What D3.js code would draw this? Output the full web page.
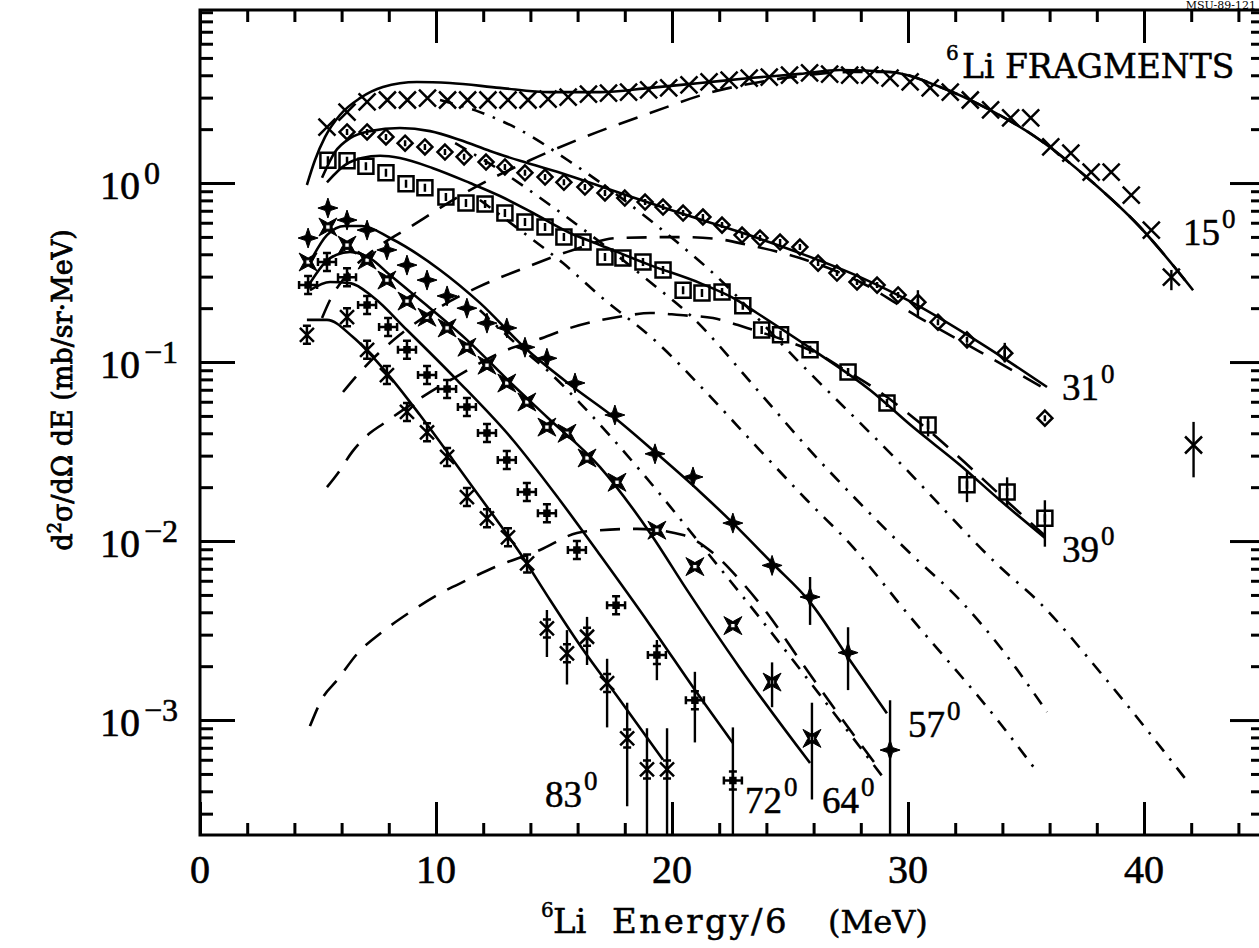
<!DOCTYPE html>
<html>
<head>
<meta charset="utf-8">
<script src="https://cdn.jsdelivr.net/npm/d3@7"></script>
<style>
body{margin:0;background:#fff;}
text{fill:#000;}
</style>
</head>
<body>
<svg id="chart" width="1259" height="948"></svg>
<script>
// ---- data: 6Li energy/6 (MeV) and d2sigma/dOmega dE (mb/sr MeV)
var e15=[5.38,6.23,7.08,7.94,8.79,9.64,10.49,11.34,12.2,13.05,13.9,14.75,15.6,16.46,17.31,18.16,19.01,19.86,20.72,21.57,22.42,23.27,24.12,24.98,25.83,26.68,27.53,28.38,29.24,30.09,30.94,31.79,32.64,33.5,34.35,35.2,36.05,36.9,37.76,38.61,39.46,40.31,41.16,42.1];
var s15=[2.05,2.49,2.84,2.91,2.91,2.98,2.91,2.91,2.91,2.91,2.91,2.94,3.02,3.14,3.18,3.22,3.31,3.40,3.53,3.67,3.76,3.86,3.91,4.01,4.12,4.06,4.01,4.01,3.86,3.67,3.40,3.22,2.91,2.56,2.31,2.31,1.59,1.47,1.15,1.15,0.857,0.546,0.298,0.0344];
var err15=[[41.16,0.327,0.252],[42.1,0.0463,0.0227]];

var e31=[6.23,7.08,7.88,8.69,9.53,10.38,11.19,12.12,12.92,13.77,14.62,15.42,16.31,17.16,18.0,18.86,19.62,20.47,21.31,22.12,22.97,23.73,24.58,25.42,26.19,26.99,27.84,28.69,29.58,30.42,31.27,32.5,34.1,35.8];
var s31=[1.93,1.93,1.81,1.67,1.59,1.49,1.40,1.31,1.23,1.14,1.08,1.01,0.95,0.88,0.824,0.783,0.734,0.68,0.646,0.582,0.512,0.493,0.468,0.439,0.357,0.314,0.28,0.269,0.237,0.216,0.167,0.133,0.112,0.0486];
var err31=[[30.42,0.252,0.176],[34.1,0.128,0.0995]];

var e39=[5.42,6.23,7.03,7.88,8.73,9.53,10.42,11.27,12.08,12.92,13.77,14.62,15.42,16.23,17.16,17.92,18.77,19.62,20.47,21.27,22.12,23.0,23.8,24.6,25.85,27.46,29.11,30.85,32.5,34.2,35.8];
var s39=[1.34,1.33,1.24,1.14,0.99,0.94,0.835,0.773,0.763,0.68,0.605,0.568,0.499,0.468,0.386,0.381,0.362,0.327,0.252,0.243,0.246,0.206,0.151,0.142,0.117,0.0879,0.059,0.0445,0.0206,0.0188,0.0134];
var err39=[[30.85,0.0494,0.0384],[32.5,0.0249,0.0165],[34.2,0.0227,0.0155],[35.8,0.0169,0.0093]];

var e57=[4.58,5.42,6.23,7.08,7.92,8.77,9.62,10.47,11.31,12.16,13.0,13.77,14.7,15.89,17.58,19.28,20.89,22.58,24.24,25.85,27.46,29.24];
var s57=[0.493,0.725,0.621,0.546,0.423,0.348,0.287,0.234,0.20,0.165,0.155,0.121,0.105,0.0764,0.0506,0.0307,0.0228,0.0126,0.00731,0.00487,0.00238,0.00068];
var err57=[[25.85,0.0063,0.0034],[27.46,0.0033,0.00147],[29.24,0.00129,0.0002]];

var e64=[4.58,5.42,6.23,7.08,7.92,8.77,9.62,10.47,11.31,12.16,13.0,13.85,14.7,15.55,16.4,17.67,19.36,20.97,22.58,24.24,25.93];
var s64=[0.362,0.568,0.45,0.371,0.287,0.219,0.178,0.155,0.121,0.096,0.0763,0.0598,0.0433,0.040,0.0291,0.0213,0.0115,0.0072,0.00337,0.00163,0.00079];
var err64=[[24.24,0.0021,0.00118],[25.93,0.00125,0.00036]];

var e72=[4.58,5.38,6.23,7.08,7.97,8.77,9.62,10.47,11.31,12.16,13.0,13.85,14.7,15.97,17.63,19.36,20.97,22.58];
var s72=[0.269,0.362,0.298,0.208,0.157,0.117,0.0846,0.0706,0.0561,0.0401,0.0284,0.0188,0.0143,0.00891,0.00438,0.00231,0.00129,0.00046];
var err72=[[19.36,0.0028,0.00167],[20.97,0.00186,0.00075],[22.58,0.00091,0.0002]];

var e83=[4.53,6.23,7.08,7.92,8.77,9.62,10.47,11.31,12.16,13.05,13.86,14.7,15.55,16.4,17.25,18.1,18.94,19.79];
var s83=[0.142,0.178,0.117,0.0846,0.0526,0.0405,0.0295,0.0176,0.0134,0.0105,0.0075,0.00325,0.00236,0.00292,0.00161,0.00079,0.00053,0.00053];
var err83=[[14.7,0.00412,0.00225],[15.55,0.00318,0.00158],[16.4,0.00377,0.00203],[17.25,0.0022,0.00091],[18.1,0.00125,0.00033],[18.94,0.0009,0.0002],[19.79,0.0009,0.0002]];

// ---- model curves: total fit (solid), equilibrium part (dashed), pre-equilibrium part (dash-dot)
var fit15E=[4.53,4.87,5.30,5.93,6.78,7.75,9.19,10.59,12.71,14.83,16.95,19.07,21.19,23.31,25.42,27.12,29.24,31.36,33.47,35.59,37.71,39.83,42.08];
var fit15V=[0.975,1.34,1.81,2.40,2.98,3.44,3.67,3.62,3.40,3.22,3.22,3.40,3.62,3.86,4.07,4.28,4.17,3.44,2.56,1.74,1.04,0.568,0.252];
var fit31E=[5.17,5.72,6.36,7.20,8.47,9.75,11.02,12.29,13.56,15.55,17.80,20.34,22.88,25.42,27.97,30.21,33.05,35.89];
var fit31V=[1.07,1.49,1.78,1.95,2.03,1.95,1.74,1.51,1.33,1.11,0.880,0.680,0.532,0.406,0.298,0.214,0.128,0.0725];
var fit39E=[5.38,6.14,6.86,7.63,8.47,9.87,11.44,12.71,14.11,15.68,16.95,19.07,21.19,22.75,23.60,25.97,28.39,30.21,32.20,33.90,35.81];
var fit39V=[1.01,1.26,1.38,1.42,1.38,1.21,1.0,0.846,0.680,0.526,0.451,0.348,0.276,0.222,0.188,0.117,0.0698,0.0433,0.0266,0.0169,0.0104];
var fit57E=[4.66,5.38,6.14,6.86,8.05,10.17,11.86,13.86,15.81,17.58,19.28,21.19,22.58,24.24,25.85,27.54,29.11];
var fit57V=[0.362,0.512,0.575,0.575,0.493,0.327,0.214,0.117,0.0725,0.0487,0.0314,0.0188,0.0126,0.00754,0.00456,0.00216,0.00109];
var fit64E=[4.66,5.51,6.36,7.20,8.05,9.75,11.31,13.26,14.70,16.95,19.07,20.64,22.88,25.85];
var fit64V=[0.276,0.381,0.412,0.381,0.306,0.200,0.133,0.0744,0.0493,0.0259,0.0111,0.00532,0.00195,0.000575];
var fit72E=[4.66,5.51,6.36,7.33,8.77,10.89,13.26,15.25,16.95,19.07,21.19,22.58];
var fit72V=[0.252,0.280,0.276,0.231,0.151,0.0793,0.0367,0.0169,0.00835,0.0034,0.00134,0.000744];
var fit83E=[4.53,5.38,6.48,7.92,9.32,10.72,11.86,13.56,14.70,16.10,17.80,19.62];
var fit83V=[0.172,0.172,0.138,0.0868,0.0506,0.0284,0.0176,0.00857,0.00499,0.00262,0.00129,0.0006];

var eq15E=[5.17,5.51,6.14,7.20,9.03,11.44,13.98,16.31,19.07,21.69,23.73,25.42,27.54,29.24,31.36,33.47,35.59,37.71,39.83,42.08];
var eq15V=[0.176,0.222,0.298,0.406,0.582,0.914,1.34,1.81,2.46,3.22,3.67,3.96,4.17,4.17,3.44,2.56,1.74,1.04,0.568,0.252];
var eq31E=[6.06,6.78,8.47,10.17,11.78,13.86,15.81,17.67,20.34,21.91,23.22,25.42,27.97,30.51,33.05,35.89];
var eq31V=[0.068,0.0879,0.142,0.203,0.262,0.340,0.423,0.493,0.499,0.487,0.451,0.381,0.280,0.176,0.114,0.0698];
var eq39E=[5.38,5.85,6.44,7.20,7.75,9.41,10.76,13.01,14.28,15.68,18.22,19.07,20.34,21.74,23.18,25.00,26.14,27.12,28.81,30.51,32.20,33.90,35.81];
var eq39V=[0.020,0.024,0.0314,0.0401,0.0451,0.0637,0.0814,0.117,0.133,0.155,0.183,0.188,0.183,0.176,0.155,0.129,0.112,0.0938,0.068,0.0456,0.0291,0.0181,0.0107];
var eq57E=[4.66,5.21,5.81,6.69,7.71,8.90,10.04,11.31,12.50,14.41,15.97,16.95,18.52,20.47,21.74,22.88,24.03,25.42,27.12,28.81];
var eq57V=[0.000925,0.00134,0.00167,0.00237,0.0031,0.00401,0.00499,0.00605,0.00716,0.00891,0.0111,0.0115,0.0117,0.0108,0.00857,0.00605,0.00396,0.00216,0.00105,0.000526];

var pre15E=[10.17,11.86,13.56,15.59,17.80,20.21,21.74,25.30,29.66,33.90,35.59,38.14,41.86];
var pre15V=[2.91,2.49,1.98,1.34,0.835,0.468,0.314,0.1026,0.0273,0.00716,0.00451,0.00185,0.000451];
var pre31E=[10.81,12.71,14.83,16.95,19.07,20.76,23.73,25.72,27.84,30.08,32.20,33.90,35.89];
var pre31V=[1.67,1.18,0.754,0.468,0.280,0.183,0.0671,0.0335,0.0169,0.00857,0.00468,0.00256,0.00111];
var pre39E=[11.86,13.56,15.38,16.95,19.36,21.48,23.60,25.72,27.67,29.96,33.90,35.51];
var pre39V=[0.804,0.546,0.357,0.234,0.129,0.0671,0.0335,0.0169,0.00925,0.00396,0.00096,0.000506];
var pre57E=[11.86,13.56,14.70,16.10,18.64,21.31,23.73,26.27,28.94];
var pre57V=[0.195,0.121,0.0902,0.059,0.0249,0.00925,0.00371,0.00138,0.00048];

// tick labels
var xTickLabels=[0,10,20,30,40];
var yTickLabels=[[1,'0'],[0.1,'\u22121'],[0.01,'\u22122'],[0.001,'\u22123']];

//----------------------------------------------------------------
var svg=d3.select('#chart');
var x=d3.scaleLinear().domain([0,45]).range([200,1262]);
var y=d3.scaleLog().domain([2.28e-4,9.26]).range([835,10]);
var numFont='Liberation Serif',wordFont='DejaVu Serif';

svg.append('defs').append('clipPath').attr('id','plotclip')
    .append('rect').attr('x',200).attr('y',10).attr('width',1062).attr('height',825);

var plot=svg.append('g').attr('clip-path','url(#plotclip)');

var line=d3.line()
    .x(function(d){return x(d[0]);})
    .y(function(d){return y(d[1]);})
    .curve(d3.curveMonotoneX);

function zip(a,b){return a.map(function(v,i){return [v,b[i]];});}

// curves -----------------------------------------------------------
var curves=[
    [fit15E,fit15V,null],[fit31E,fit31V,null],[fit39E,fit39V,null],[fit57E,fit57V,null],
    [fit64E,fit64V,null],[fit72E,fit72V,null],[fit83E,fit83V,null],
    [eq15E,eq15V,'20,13'],[eq31E,eq31V,'20,13'],[eq39E,eq39V,'20,13'],[eq57E,eq57V,'20,13'],
    [pre15E,pre15V,'13,9,2.5,9'],[pre31E,pre31V,'13,9,2.5,9'],[pre39E,pre39V,'13,9,2.5,9'],[pre57E,pre57V,'13,9,2.5,9']
];
plot.selectAll('path.curve').data(curves).enter().append('path')
    .attr('class','curve')
    .attr('d',function(c){return line(zip(c[0],c[1]));})
    .style('fill','none')
    .style('stroke','#000')
    .style('stroke-width',2.6)
    .style('stroke-dasharray',function(c){return c[2];});

// markers ----------------------------------------------------------
var shapes={
    x:{d:'M-8.5,-8.5L8.5,8.5M-8.5,8.5L8.5,-8.5',fill:'none'},
    diamond:{d:'M0,-7.5L7.5,0L0,7.5L-7.5,0ZM0,-3V3',fill:'none'},
    square:{d:'M-7.5,-7.5H7.5V7.5H-7.5ZM0,-4V4',fill:'none'},
    star4:{d:'M0,-10L2.5,-2.5L10,0L2.5,2.5L0,10L-2.5,2.5L-10,0L-2.5,-2.5Z',fill:'#000'},
    xbox:{d:'M-9,-9L0,-4L9,-9L4,0L9,9L0,4L-9,9L-4,0ZM-2.2,-2.2h4.4v4.4h-4.4Z',fill:'#000'},
    cross:{d:'M0,-9V9M-9,0H9M-4,-9H4M-4,9H4M-9,-4V4M9,-4V4M-2.5,-2.5h5v5h-5Z',fill:'none'},
    aster:{d:'M-7,-7L7,7M-7,7L7,-7M0,-9V9M-4,-9H4M-4,9H4',fill:'none'}
};
var series=[
    [e15,s15,err15,'x'],[e31,s31,err31,'diamond'],[e39,s39,err39,'square'],
    [e57,s57,err57,'star4'],[e64,s64,err64,'xbox'],[e72,s72,err72,'cross'],[e83,s83,err83,'aster']
];
series.forEach(function(s){
    plot.selectAll(null).data(s[2]).enter().append('line')
        .attr('x1',function(d){return x(d[0]);})
        .attr('x2',function(d){return x(d[0]);})
        .attr('y1',function(d){return y(d[1]);})
        .attr('y2',function(d){return y(d[2]);})
        .style('stroke','#000').style('stroke-width',2.4);
    var sh=shapes[s[3]];
    plot.selectAll(null).data(zip(s[0],s[1])).enter().append('path')
        .attr('transform',function(d){return 'translate('+x(d[0])+','+y(d[1])+')';})
        .attr('d',sh.d)
        .style('fill',sh.fill)
        .style('fill-rule','evenodd')
        .style('stroke','#000')
        .style('stroke-width',sh.fill=='none'?2.5:1);
});

// frame and ticks --------------------------------------------------
var majX=[0,10,20,30,40],minX=d3.range(2,45,2).filter(function(v){return v%10!=0;});
var majY=[1e-3,1e-2,1e-1,1],minY=[];
[-4,-3,-2,-1,0].forEach(function(p){
    for(var m=2;m<10;m++){var v=m*Math.pow(10,p); if(v>2.28e-4&&v<9.26) minY.push(v);}
});
function ax(gen,vals,size,tx){
    var g=svg.append('g').attr('transform',tx)
        .call(gen.tickValues(vals).tickSize(size).tickFormat(''));
    g.select('.domain').remove();
    g.selectAll('line').style('stroke','#000').style('stroke-width',3);
}
ax(d3.axisBottom(x),majX,-33,'translate(0,835)');
ax(d3.axisBottom(x),minX,-12,'translate(0,835)');
ax(d3.axisTop(x),majX,-33,'translate(0,10)');
ax(d3.axisTop(x),minX,-12,'translate(0,10)');
ax(d3.axisLeft(y),majY,-35,'translate(200,0)');
ax(d3.axisLeft(y),minY,-13,'translate(200,0)');
ax(d3.axisRight(y),majY,-32,'translate(1262,0)');
ax(d3.axisRight(y),minY,-11,'translate(1262,0)');

svg.append('rect')
    .attr('x',200).attr('y',10).attr('width',1062).attr('height',825)
    .style('fill','none').style('stroke','#000').style('stroke-width',3);

// tick labels ------------------------------------------------------
svg.selectAll(null).data(xTickLabels).enter().append('text')
    .attr('x',function(d){return x(d);})
    .attr('y',883)
    .attr('text-anchor','middle')
    .style('font-family',numFont).style('font-size','40px')
    .style('stroke','#000').style('stroke-width',0.6)
    .text(function(d){return d;});

var yl=svg.selectAll(null).data(yTickLabels).enter().append('text')
    .attr('x',100)
    .attr('y',function(d){return y(d[0])+16;})
    .style('font-family',numFont).style('font-size','40px')
    .style('stroke','#000').style('stroke-width',0.6);
yl.append('tspan').text('10');
yl.append('tspan').attr('dx',4).attr('dy',-15).style('font-size','32px').text(function(d){return d[1];});

// axis titles ------------------------------------------------------
var xt=svg.append('text').attr('y',933)
    .style('font-family',wordFont).style('stroke','#000').style('stroke-width',0.5);
xt.append('tspan').attr('x',541).attr('dy',-16).style('font-size','20px').text('6');
xt.append('tspan').attr('x',553).attr('dy',16).style('font-size','34px').text('Li');
xt.append('tspan').attr('x',612).style('font-size','34px').style('letter-spacing','2.5px').text('Energy/6');
xt.append('tspan').attr('x',828).style('font-size','32px').text('(MeV)');

var yt=svg.append('text')
    .attr('transform','translate(72,390) rotate(-90)')
    .attr('text-anchor','middle')
    .style('font-family',wordFont).style('font-size','27px')
    .style('stroke','#000').style('stroke-width',0.8);
yt.append('tspan').text('d');
yt.append('tspan').attr('dy',-11).style('font-size','18px').text('2');
yt.append('tspan').attr('dy',11).text('\u03c3/d\u03a9 dE (mb/sr\u00b7MeV)');

// annotations ------------------------------------------------------
var frag=svg.append('text').attr('y',78)
    .style('font-family',wordFont).style('stroke','#000').style('stroke-width',0.5);
frag.append('tspan').attr('x',946).attr('dy',-18).style('font-size','20px').text('6');
frag.append('tspan').attr('x',962).attr('dy',18).style('font-size','33px').text('Li FRAGMENTS');

svg.append('text').attr('x',1256).attr('y',9).attr('text-anchor','end')
    .style('font-family',wordFont).style('font-size','11px')
    .text('MSU-89-121');

var angleLabels=[['15',1183,245],['31',1062,400],['39',1062,562],['57',908,737],['64',822,813],['72',745,813],['83',545,807]];
var al=svg.selectAll(null).data(angleLabels).enter().append('text')
    .attr('x',function(d){return d[1];})
    .attr('y',function(d){return d[2];})
    .style('font-family',numFont).style('font-size','37px')
    .style('stroke','#000').style('stroke-width',0.5);
al.append('tspan').text(function(d){return d[0];});
al.append('tspan').attr('dx',2).attr('dy',-17).style('font-size','27px').text('0');
</script>
</body>
</html>
